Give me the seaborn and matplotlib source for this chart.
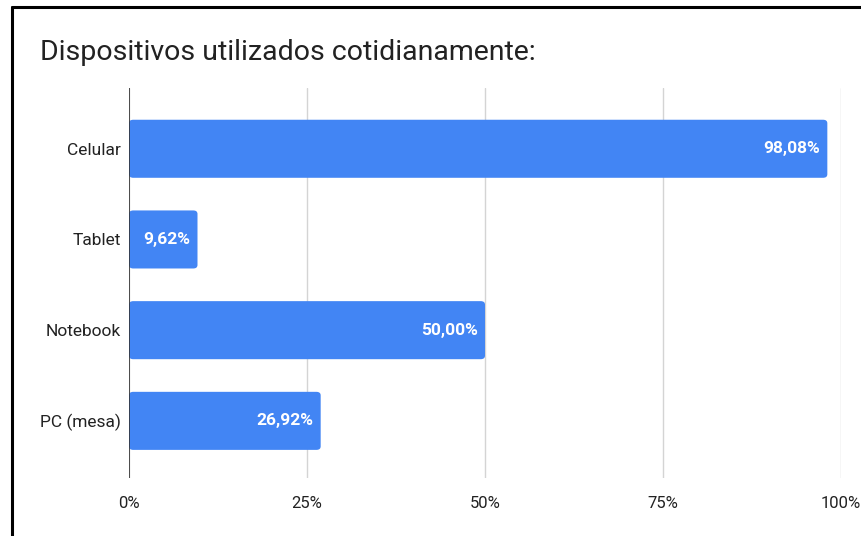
import matplotlib
matplotlib.use("Agg")
import matplotlib.pyplot as plt
from matplotlib.patches import FancyBboxPatch
from matplotlib.lines import Line2D
import seaborn as sns
import pandas as pd

categories = ["Celular", "Tablet", "Notebook", "PC (mesa)"]
values = [98.08, 9.62, 50.00, 26.92]
value_labels = ["98,08%", "9,62%", "50,00%", "26,92%"]
x_ticks = [0, 25, 50, 75, 100]
x_tick_labels = ["0%", "25%", "50%", "75%", "100%"]
title = "Dispositivos utilizados cotidianamente:"

sns.set_theme(style="white")
plt.rcParams["font.family"] = ["Roboto", "DejaVu Sans"]

df = pd.DataFrame({"device": categories, "pct": values})

fig = plt.figure(figsize=(8.61, 5.36), dpi=100)
ax = fig.add_axes([129 / 861, 1 - 478 / 536, (841 - 129) / 861, (478 - 88) / 536])

sns.barplot(data=df, x="pct", y="device", order=categories, color="#4285F4",
            saturation=1, width=0.64, ax=ax)

# rounded bar corners
for patch in list(ax.patches):
    x0, y0 = patch.get_x(), patch.get_y()
    w, h = patch.get_width(), patch.get_height()
    rounded = FancyBboxPatch((x0, y0), w, h,
                             boxstyle="round,pad=0,rounding_size=0.6",
                             mutation_aspect=h / 0.6 * 0.06,
                             facecolor="#4285F4", edgecolor="none", zorder=3)
    patch.remove()
    ax.add_patch(rounded)

ax.set_xlim(0, 100)
ax.set_ylim(3.63, -0.67)
ax.set_xticks(x_ticks)
ax.set_xticklabels(x_tick_labels)
ax.set_xlabel("")
ax.set_ylabel("")
ax.xaxis.grid(True, color="#d4d4d4", linewidth=1)
ax.set_axisbelow(True)
for s in ax.spines.values():
    s.set_visible(False)
ax.axvline(0, color="#333333", linewidth=1.2, zorder=4)
ax.tick_params(axis="x", length=0, pad=13, labelsize=12, labelcolor="#222222")
ax.tick_params(axis="y", length=0, pad=6, labelsize=12.5, labelcolor="#222222")

for i, (v, lab) in enumerate(zip(values, value_labels)):
    ax.annotate(lab, xy=(v, i), xytext=(-5, 0), textcoords="offset points",
                ha="right", va="center", color="white", fontsize=12.5,
                fontweight="bold", zorder=5)

fig.text(40 / 861, 1 - 52 / 536, title, fontsize=20.5, color="#222222",
         ha="left", va="center")

# outer frame on the top and left edges
fig.add_artist(Line2D([12 / 861, 12 / 861], [0, 1 - 7 / 536], transform=fig.transFigure,
                      color="black", linewidth=2.2))
fig.add_artist(Line2D([12 / 861, 1], [1 - 7 / 536, 1 - 7 / 536], transform=fig.transFigure,
                      color="black", linewidth=2.2))

fig.savefig("out.png", dpi=100)
